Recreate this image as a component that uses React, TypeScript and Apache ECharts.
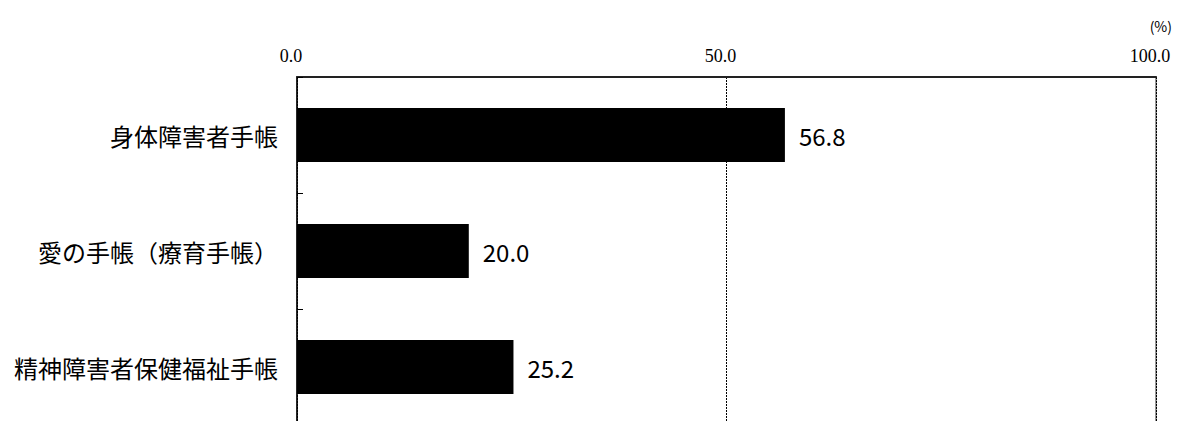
import React, { useEffect, useRef } from "react";
import * as echarts from "echarts";

const categories = ["身体障害者手帳", "愛の手帳（療育手帳）", "精神障害者保健福祉手帳"];
const values = [56.8, 20.0, 25.2];
const xTicks = [0, 50, 100];
const unitLabel = "(%)";

export default function App() {
  const ref = useRef<HTMLDivElement>(null);
  useEffect(() => {
    document.body.style.margin = "0";
    document.body.style.overflow = "hidden";
    const chart = echarts.init(ref.current!, null, { renderer: "svg" });
    chart.setOption({
      animation: false,
      backgroundColor: "#ffffff",
      graphic: [
        {
          type: "text",
          right: 8,
          top: 19,
          style: { text: unitLabel, fontSize: 14, fill: "#000", fontFamily: "Noto Sans CJK JP" },
        },
      ],
      grid: {
        left: 297,
        top: 77,
        width: 859,
        height: 348,
        show: true,
        borderColor: "#777",
        borderWidth: 1.5,
        backgroundColor: "transparent",
      },
      xAxis: {
        type: "value",
        position: "top",
        min: xTicks[0],
        max: xTicks[xTicks.length - 1],
        interval: 50,
        axisLine: { show: true, lineStyle: { color: "#222", width: 2 } },
        axisTick: { show: false },
        axisLabel: {
          color: "#000",
          fontSize: 18,
          fontFamily: "Liberation Serif",
          margin: 12,
          padding: [0, 12, 0, 0],
          formatter: (v: number) => v.toFixed(1),
        },
        splitLine: { show: true, lineStyle: { color: "#000", type: [2, 1], width: 1 } },
      },
      yAxis: {
        type: "category",
        inverse: true,
        data: categories,
        axisLine: { show: true, lineStyle: { color: "#000", width: 1.5 } },
        axisTick: { show: true, inside: true, length: 6, lineStyle: { color: "#000" } },
        axisLabel: {
          color: "#000",
          fontSize: 24,
          fontFamily: "Noto Sans CJK JP",
          margin: 19,
        },
      },
      series: [
        {
          type: "bar",
          data: values,
          barWidth: 54,
          itemStyle: { color: "#000" },
          label: {
            show: true,
            position: "right",
            distance: 14,
            color: "#000",
            fontSize: 24,
            fontFamily: "Noto Sans CJK JP",
            formatter: (p: any) => Number(p.value).toFixed(1),
          },
        },
      ],
    });
    return () => chart.dispose();
  }, []);
  return <div ref={ref} style={{ width: 1180, height: 426 }} />;
}
